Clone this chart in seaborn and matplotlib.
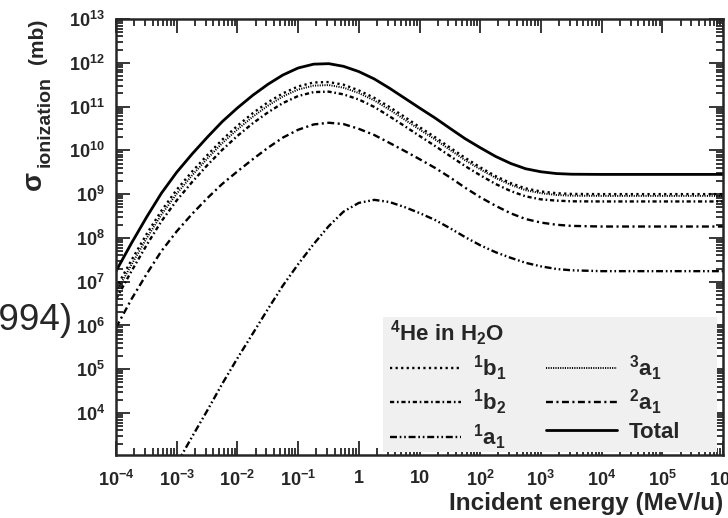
import numpy as np
import matplotlib
matplotlib.use("Agg")
import matplotlib.pyplot as plt
import seaborn as sns
from matplotlib.patches import Rectangle
from matplotlib.ticker import LogLocator, FuncFormatter, NullFormatter

# === Daten ===
energy = [1e-4, 1.8e-4, 3.2e-4, 5.6e-4, 1e-3, 1.8e-3, 3.2e-3, 5.6e-3, 1e-2, 1.8e-2,
          3.2e-2, 5.6e-2, 0.1, 0.18, 0.32, 0.56, 1, 1.8, 3.2, 5.6,
          10, 18, 32, 56, 100, 180, 320, 560, 1e3, 1.8e3,
          3.2e3, 1e4, 1e5, 1e6]

sigma_total = [1.74e7, 7.6e7, 3.0e8, 1.05e9, 3.16e9, 8.3e9, 2.0e10, 4.5e10, 9.3e10, 1.82e11,
               3.24e11, 5.25e11, 7.6e11, 9.3e11, 9.55e11, 8.3e11, 6.3e11, 4.27e11, 2.63e11, 1.58e11,
               9.3e10, 5.5e10, 3.16e10, 1.86e10, 1.15e10, 7.24e9, 5.0e9, 3.8e9, 3.24e9, 2.95e9,
               2.85e9, 2.82e9, 2.82e9, 2.82e9]
sigma_1b1 = [7.1e6, 3.1e7, 1.23e8, 4.17e8, 1.26e9, 3.3e9, 7.8e9, 1.74e10, 3.63e10, 7.1e10,
             1.26e11, 2.0e11, 2.88e11, 3.55e11, 3.63e11, 3.16e11, 2.34e11, 1.58e11, 9.8e10, 5.9e10,
             3.4e10, 2.0e10, 1.15e10, 6.8e9, 4.1e9, 2.57e9, 1.78e9, 1.35e9, 1.15e9, 1.05e9,
             1.01e9, 1.0e9, 1.0e9, 1.0e9]
sigma_3a1 = [5.6e6, 2.45e7, 9.8e7, 3.4e8, 1.02e9, 2.7e9, 6.5e9, 1.45e10, 3.0e10, 5.9e10,
             1.05e11, 1.7e11, 2.45e11, 3.0e11, 3.1e11, 2.7e11, 2.04e11, 1.38e11, 8.5e10, 5.1e10,
             3.0e10, 1.78e10, 1.02e10, 6.0e9, 3.7e9, 2.34e9, 1.62e9, 1.23e9, 1.05e9, 9.55e8,
             9.2e8, 9.1e8, 9.1e8, 9.1e8]
sigma_1b2 = [4.0e6, 1.74e7, 6.9e7, 2.4e8, 7.2e8, 1.9e9, 4.6e9, 1.02e10, 2.14e10, 4.17e10,
             7.4e10, 1.2e11, 1.74e11, 2.14e11, 2.19e11, 1.9e11, 1.45e11, 9.8e10, 6.0e10, 3.63e10,
             2.14e10, 1.26e10, 7.4e9, 4.4e9, 2.7e9, 1.7e9, 1.17e9, 8.9e8, 7.6e8, 7.1e8,
             6.85e8, 6.8e8, 6.8e8, 6.8e8]
sigma_2a1 = [8.9e5, 4.0e6, 1.5e7, 5.0e7, 1.41e8, 3.55e8, 8.1e8, 1.7e9, 3.3e9, 6.3e9,
             1.15e10, 1.95e10, 2.95e10, 3.9e10, 4.27e10, 3.98e10, 3.1e10, 2.24e10, 1.48e10, 9.8e9,
             6.3e9, 3.98e9, 2.4e9, 1.41e9, 8.5e8, 5.4e8, 3.63e8, 2.7e8, 2.24e8, 2.0e8,
             1.88e8, 1.82e8, 1.82e8, 1.82e8]

energy_1a1 = energy[4:]
sigma_1a1 = [6.9e2, 2.9e3, 1.15e4, 4.6e4, 1.78e5, 6.6e5, 2.4e6, 8.1e6, 2.5e7, 7.2e7,
             1.86e8, 3.98e8, 6.3e8, 7.4e8, 6.6e8, 5.1e8, 3.7e8, 2.57e8, 1.66e8, 1.05e8,
             6.8e7, 4.7e7, 3.5e7, 2.7e7, 2.24e7, 1.95e7, 1.82e7, 1.74e7, 1.74e7, 1.74e7]

# === Stil ===
sns.set_style("ticks")
plt.rcParams["font.family"] = ["Liberation Sans", "DejaVu Sans"]
plt.rcParams["font.weight"] = "bold"
plt.rcParams["mathtext.fontset"] = "custom"
plt.rcParams["mathtext.rm"] = "Liberation Sans:bold"
plt.rcParams["mathtext.it"] = "Liberation Sans:bold"
plt.rcParams["mathtext.bf"] = "Liberation Sans:bold"
plt.rcParams["lines.scale_dashes"] = False

W, H = 728, 518
fig = plt.figure(figsize=(W / 100, H / 100), dpi=100)
ax = fig.add_axes([116 / W, 1 - 455 / H, 607 / W, 436 / H])

lw = 1.7
curves = [
    (energy, sigma_1b1, r"$^{1}$b$_{1}$", (0, (1.6, 2.4)), lw),
    (energy, sigma_1b2, r"$^{1}$b$_{2}$", (0, (3, 2, 1.2, 2)), lw),
    (energy_1a1, sigma_1a1, r"$^{1}$a$_{1}$", (0, (5, 2, 1.2, 2, 1.2, 2)), lw),
    (energy, sigma_3a1, r"$^{3}$a$_{1}$", (0, (0.8, 0.9)), 1.4),
    (energy, sigma_2a1, r"$^{2}$a$_{1}$", (0, (5, 2.5, 1.5, 2.5)), lw),
    (energy, sigma_total, "Total", "-", 2.0),
]
for x, y, lab, ls, w in curves:
    sns.lineplot(x=x, y=y, ax=ax, color="black", linestyle=ls, linewidth=w,
                 label=lab, sort=False, estimator=None)

ax.set_xscale("log")
ax.set_yscale("log")
ax.set_xlim(1e-4, 1e6)
ax.set_ylim(1.1e3, 1e13)


def xfmt(v, pos):
    e = int(round(np.log10(v)))
    if e == 0:
        return "1"
    if e == 1:
        return "10"
    return r"$10^{%d}$" % e


def yfmt(v, pos):
    return r"$10^{%d}$" % int(round(np.log10(v)))


ax.xaxis.set_major_locator(LogLocator(base=10, numticks=30))
ax.xaxis.set_minor_locator(LogLocator(base=10, subs=np.arange(2, 10), numticks=200))
ax.yaxis.set_major_locator(LogLocator(base=10, numticks=30))
ax.yaxis.set_minor_locator(LogLocator(base=10, subs=np.arange(2, 10), numticks=200))
ax.xaxis.set_major_formatter(FuncFormatter(xfmt))
ax.yaxis.set_major_formatter(FuncFormatter(yfmt))
ax.xaxis.set_minor_formatter(NullFormatter())
ax.yaxis.set_minor_formatter(NullFormatter())

ax.tick_params(which="both", direction="in", top=True, right=True, width=1.3, labelsize=13)
ax.tick_params(which="major", length=10)
ax.tick_params(which="minor", length=5)
ax.tick_params(axis="x", which="major", pad=11)
ax.tick_params(axis="y", which="major", pad=8)
for s in ax.spines.values():
    s.set_linewidth(1.8)

# Achsentitel
ax.set_xlabel("Incident energy (MeV/u)", loc="right", fontsize=17.5, fontweight="bold")
ax.xaxis.set_label_coords(1.0, -0.084)
ax.set_ylabel("")
fig.text(37 / W, 1 - 19 / H, "(mb)", rotation=90, ha="center", va="top", fontsize=15)
fig.text(45 / W, 1 - 76 / H, "ionization", rotation=90, ha="center", va="top", fontsize=14)
fig.text(34 / W, 1 - 171 / H, "σ", rotation=90, ha="center", va="top", fontsize=20)

# Legende
ax.add_patch(Rectangle(((383 - 116) / 607, (455 - 452) / 436), (717 - 383) / 607, (452 - 317) / 436,
                       transform=ax.transAxes, facecolor="#f0f0f0", edgecolor="none", zorder=3))
leg = ax.legend(ncol=2, loc="upper left", bbox_to_anchor=((390 - 116) / 607, (455 - 319) / 436),
                borderaxespad=0, borderpad=0, frameon=False,
                title=r"$^{4}$He in H$_{2}$O", title_fontsize=16,
                prop={"size": 16, "weight": "bold"},
                handlelength=3.2, handletextpad=0.55, columnspacing=1.75,
                labelspacing=0.22, alignment="left")
leg.set_zorder(5)

fig.text(72 / W, 1 - 320 / H, "1994)", ha="right", va="center",
         fontsize=26.5, fontweight="normal")

fig.savefig("out.png", dpi=100)
